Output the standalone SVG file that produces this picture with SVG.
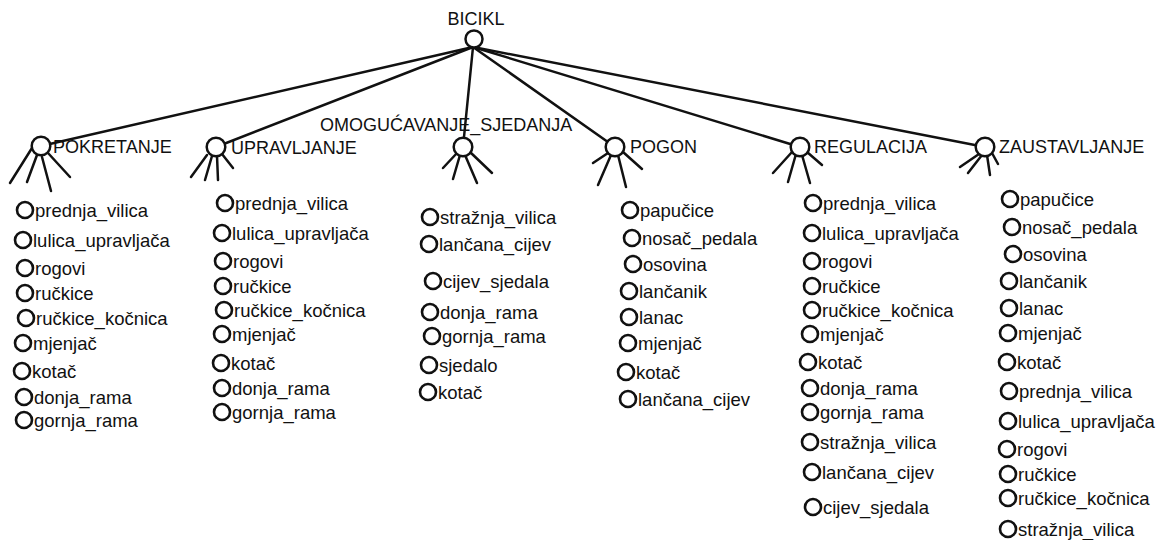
<svg xmlns="http://www.w3.org/2000/svg" width="1164" height="540" viewBox="0 0 1164 540">
<style>
.ln{stroke:#111;stroke-width:2.5;fill:none;stroke-linecap:round}
.hc{fill:#fff;stroke:#111;stroke-width:2.5}
.ic{fill:none;stroke:#111;stroke-width:2.6}
.h{font-family:"Liberation Sans",Arial,sans-serif;font-size:18px;fill:#111}
.t{font-family:"Liberation Sans",Arial,sans-serif;font-size:18.5px;fill:#111}
</style>
<rect width="1164" height="540" fill="#fff"/>
<g id="connectors" class="ln">
<line x1="473" y1="47" x2="41" y2="146"/>
<line x1="473" y1="47" x2="216" y2="147"/>
<line x1="473" y1="47" x2="463" y2="147"/>
<line x1="473" y1="47" x2="615" y2="147"/>
<line x1="473" y1="47" x2="800" y2="147"/>
<line x1="473" y1="47" x2="985" y2="147"/>
</g>
<g id="bicikl">
<circle cx="474" cy="39" r="8.5" class="hc"/>
<text x="476" y="25" class="h" text-anchor="middle">BICIKL</text>
</g>
<g id="pokretanje">
<g class="ln"><line x1="32" y1="148" x2="10" y2="183"/><line x1="37" y1="155" x2="27" y2="182"/><line x1="42" y1="157" x2="51" y2="191"/><line x1="48" y1="153" x2="70" y2="177"/></g>
<circle cx="41" cy="146" r="9.3" class="hc"/>
<text x="53" y="153" class="h">POKRETANJE</text>
</g>
<g id="upravljanje">
<g class="ln"><line x1="207" y1="155" x2="191" y2="177"/><line x1="212" y1="156" x2="205" y2="180"/><line x1="217" y1="156" x2="218" y2="180"/><line x1="222" y1="154" x2="233" y2="168"/></g>
<circle cx="216" cy="147" r="9.3" class="hc"/>
<text x="231" y="154" class="h">UPRAVLJANJE</text>
</g>
<g id="omogucavanje_sjedanja">
<g class="ln"><line x1="457" y1="153" x2="443" y2="168"/><line x1="460" y1="155" x2="453" y2="179"/><line x1="465" y1="155" x2="477" y2="183"/><line x1="470" y1="152" x2="492" y2="173"/></g>
<circle cx="463" cy="147" r="9.3" class="hc"/>
<text x="320" y="131" class="h">OMOGUĆAVANJE_SJEDANJA</text>
</g>
<g id="pogon">
<g class="ln"><line x1="608" y1="153" x2="593" y2="163"/><line x1="611" y1="155" x2="598" y2="185"/><line x1="618" y1="155" x2="626" y2="187"/><line x1="623" y1="152" x2="642" y2="169"/></g>
<circle cx="615" cy="147" r="9.3" class="hc"/>
<text x="630" y="153" class="h">POGON</text>
</g>
<g id="regulacija">
<g class="ln"><line x1="792" y1="152" x2="773" y2="173"/><line x1="796" y1="154" x2="788" y2="182"/><line x1="802" y1="155" x2="810" y2="183"/><line x1="807" y1="152" x2="822" y2="165"/></g>
<circle cx="800" cy="147" r="9.3" class="hc"/>
<text x="814" y="153" class="h">REGULACIJA</text>
</g>
<g id="zaustavljanje">
<g class="ln"><line x1="979" y1="154" x2="960" y2="167"/><line x1="982" y1="155" x2="968" y2="173"/><line x1="987" y1="155" x2="990" y2="175"/><line x1="992" y1="153" x2="998" y2="164"/></g>
<circle cx="985" cy="147" r="9.3" class="hc"/>
<text x="999" y="153" class="h">ZAUSTAVLJANJE</text>
</g>

<g id="pokretanje_items">
<g id="p1"><circle cx="25" cy="210" r="8" class="ic"/><text x="35" y="217" class="t">prednja_vilica</text></g>
<g id="p2"><circle cx="23" cy="240" r="8" class="ic"/><text x="33" y="247" class="t">lulica_upravljača</text></g>
<g id="p3"><circle cx="25" cy="268" r="8" class="ic"/><text x="35" y="275" class="t">rogovi</text></g>
<g id="p4"><circle cx="25" cy="293" r="8" class="ic"/><text x="35" y="300" class="t">ručkice</text></g>
<g id="p5"><circle cx="26" cy="318" r="8" class="ic"/><text x="36" y="325" class="t">ručkice_kočnica</text></g>
<g id="p6"><circle cx="23" cy="343" r="8" class="ic"/><text x="33" y="350" class="t">mjenjač</text></g>
<g id="p7"><circle cx="22" cy="371" r="8" class="ic"/><text x="32" y="378" class="t">kotač</text></g>
<g id="p8"><circle cx="24" cy="397" r="8" class="ic"/><text x="34" y="404" class="t">donja_rama</text></g>
<g id="p9"><circle cx="24" cy="420" r="8" class="ic"/><text x="34" y="427" class="t">gornja_rama</text></g>
</g>

<g id="upravljanje_items">
<g id="u1"><circle cx="225" cy="203" r="8" class="ic"/><text x="235" y="210" class="t">prednja_vilica</text></g>
<g id="u2"><circle cx="222" cy="233" r="8" class="ic"/><text x="232" y="240" class="t">lulica_upravljača</text></g>
<g id="u3"><circle cx="223" cy="261" r="8" class="ic"/><text x="233" y="268" class="t">rogovi</text></g>
<g id="u4"><circle cx="223" cy="286" r="8" class="ic"/><text x="233" y="293" class="t">ručkice</text></g>
<g id="u5"><circle cx="224" cy="310" r="8" class="ic"/><text x="234" y="317" class="t">ručkice_kočnica</text></g>
<g id="u6"><circle cx="222" cy="334" r="8" class="ic"/><text x="232" y="341" class="t">mjenjač</text></g>
<g id="u7"><circle cx="221" cy="363" r="8" class="ic"/><text x="231" y="370" class="t">kotač</text></g>
<g id="u8"><circle cx="222" cy="388" r="8" class="ic"/><text x="232" y="395" class="t">donja_rama</text></g>
<g id="u9"><circle cx="222" cy="412" r="8" class="ic"/><text x="232" y="419" class="t">gornja_rama</text></g>
</g>

<g id="omogucavanje_items">
<g id="o1"><circle cx="430" cy="217" r="8" class="ic"/><text x="440" y="224" class="t">stražnja_vilica</text></g>
<g id="o2"><circle cx="429" cy="244" r="8" class="ic"/><text x="439" y="251" class="t">lančana_cijev</text></g>
<g id="o3"><circle cx="433" cy="281" r="8" class="ic"/><text x="443" y="288" class="t">cijev_sjedala</text></g>
<g id="o4"><circle cx="430" cy="312" r="8" class="ic"/><text x="440" y="319" class="t">donja_rama</text></g>
<g id="o5"><circle cx="432" cy="336" r="8" class="ic"/><text x="442" y="343" class="t">gornja_rama</text></g>
<g id="o6"><circle cx="429" cy="365" r="8" class="ic"/><text x="439" y="372" class="t">sjedalo</text></g>
<g id="o7"><circle cx="428" cy="392" r="8" class="ic"/><text x="438" y="399" class="t">kotač</text></g>
</g>

<g id="pogon_items">
<g id="g1"><circle cx="630" cy="210" r="8" class="ic"/><text x="640" y="217" class="t">papučice</text></g>
<g id="g2"><circle cx="632" cy="238" r="8" class="ic"/><text x="642" y="245" class="t">nosač_pedala</text></g>
<g id="g3"><circle cx="633" cy="264" r="8" class="ic"/><text x="643" y="271" class="t">osovina</text></g>
<g id="g4"><circle cx="629" cy="291" r="8" class="ic"/><text x="639" y="298" class="t">lančanik</text></g>
<g id="g5"><circle cx="629" cy="317" r="8" class="ic"/><text x="639" y="324" class="t">lanac</text></g>
<g id="g6"><circle cx="628" cy="343" r="8" class="ic"/><text x="638" y="350" class="t">mjenjač</text></g>
<g id="g7"><circle cx="626" cy="372" r="8" class="ic"/><text x="636" y="379" class="t">kotač</text></g>
<g id="g8"><circle cx="628" cy="399" r="8" class="ic"/><text x="638" y="406" class="t">lančana_cijev</text></g>
</g>

<g id="regulacija_items">
<g id="r1"><circle cx="813" cy="203" r="8" class="ic"/><text x="823" y="210" class="t">prednja_vilica</text></g>
<g id="r2"><circle cx="812" cy="233" r="8" class="ic"/><text x="822" y="240" class="t">lulica_upravljača</text></g>
<g id="r3"><circle cx="812" cy="261" r="8" class="ic"/><text x="822" y="268" class="t">rogovi</text></g>
<g id="r4"><circle cx="812" cy="286" r="8" class="ic"/><text x="822" y="293" class="t">ručkice</text></g>
<g id="r5"><circle cx="812" cy="310" r="8" class="ic"/><text x="822" y="317" class="t">ručkice_kočnica</text></g>
<g id="r6"><circle cx="810" cy="334" r="8" class="ic"/><text x="820" y="341" class="t">mjenjač</text></g>
<g id="r7"><circle cx="808" cy="362" r="8" class="ic"/><text x="818" y="369" class="t">kotač</text></g>
<g id="r8"><circle cx="810" cy="388" r="8" class="ic"/><text x="820" y="395" class="t">donja_rama</text></g>
<g id="r9"><circle cx="810" cy="412" r="8" class="ic"/><text x="820" y="419" class="t">gornja_rama</text></g>
<g id="r10"><circle cx="810" cy="442" r="8" class="ic"/><text x="820" y="449" class="t">stražnja_vilica</text></g>
<g id="r11"><circle cx="812" cy="472" r="8" class="ic"/><text x="822" y="479" class="t">lančana_cijev</text></g>
<g id="r12"><circle cx="813" cy="507" r="8" class="ic"/><text x="823" y="514" class="t">cijev_sjedala</text></g>
</g>

<g id="zaustavljanje_items">
<g id="z1"><circle cx="1010" cy="199" r="8" class="ic"/><text x="1020" y="206" class="t">papučice</text></g>
<g id="z2"><circle cx="1012" cy="227" r="8" class="ic"/><text x="1022" y="234" class="t">nosač_pedala</text></g>
<g id="z3"><circle cx="1013" cy="254" r="8" class="ic"/><text x="1023" y="261" class="t">osovina</text></g>
<g id="z4"><circle cx="1009" cy="281" r="8" class="ic"/><text x="1019" y="288" class="t">lančanik</text></g>
<g id="z5"><circle cx="1009" cy="308" r="8" class="ic"/><text x="1019" y="315" class="t">lanac</text></g>
<g id="z6"><circle cx="1008" cy="333" r="8" class="ic"/><text x="1018" y="340" class="t">mjenjač</text></g>
<g id="z7"><circle cx="1007" cy="362" r="8" class="ic"/><text x="1017" y="369" class="t">kotač</text></g>
<g id="z8"><circle cx="1009" cy="391" r="8" class="ic"/><text x="1019" y="398" class="t">prednja_vilica</text></g>
<g id="z9"><circle cx="1008" cy="421" r="8" class="ic"/><text x="1018" y="428" class="t">lulica_upravljača</text></g>
<g id="z10"><circle cx="1007" cy="449" r="8" class="ic"/><text x="1017" y="456" class="t">rogovi</text></g>
<g id="z11"><circle cx="1008" cy="474" r="8" class="ic"/><text x="1018" y="481" class="t">ručkice</text></g>
<g id="z12"><circle cx="1008" cy="498" r="8" class="ic"/><text x="1018" y="505" class="t">ručkice_kočnica</text></g>
<g id="z13"><circle cx="1008" cy="529" r="8" class="ic"/><text x="1018" y="536" class="t">stražnja_vilica</text></g>
</g>
</svg>
